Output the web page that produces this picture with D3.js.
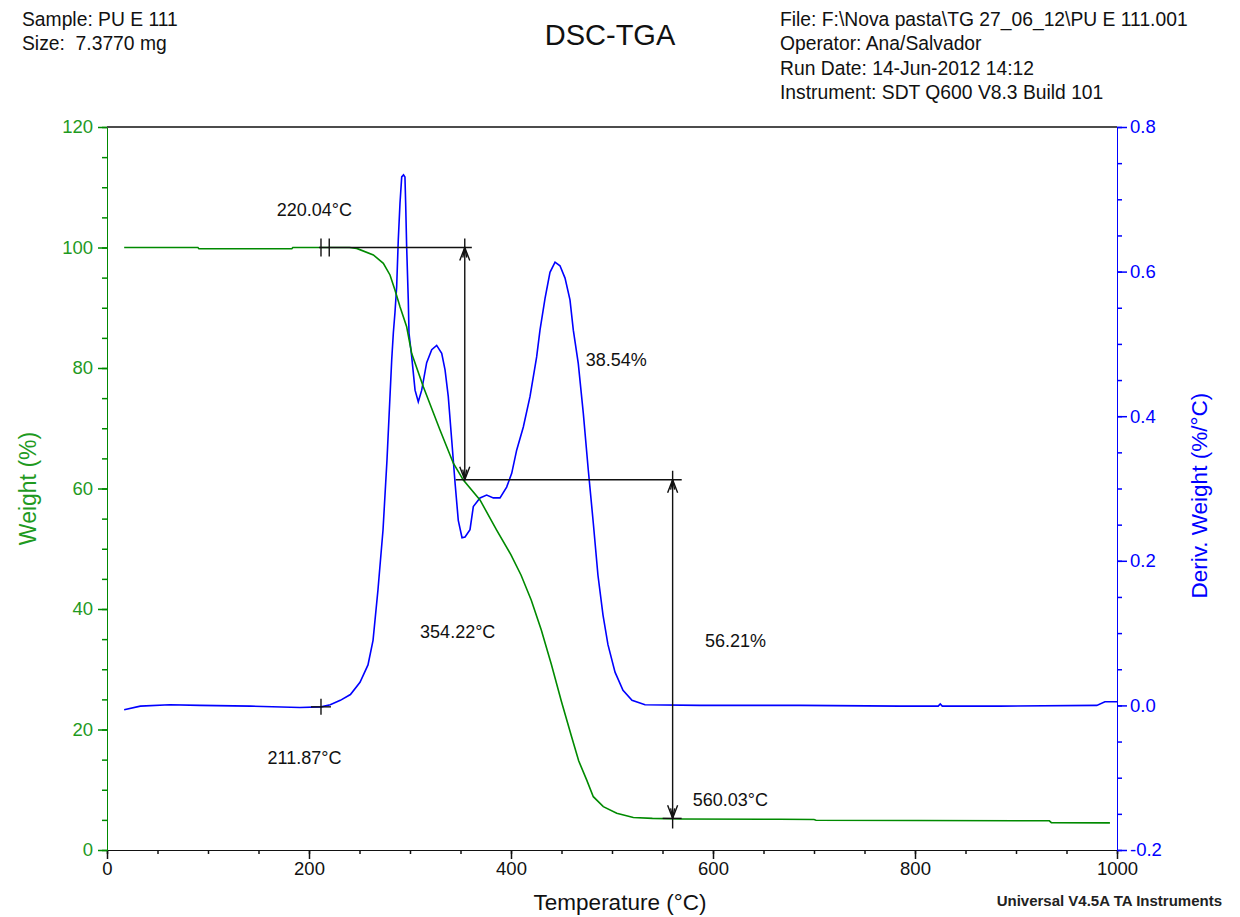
<!DOCTYPE html>
<html>
<head>
<meta charset="utf-8">
<script src="https://cdn.jsdelivr.net/npm/d3@7"></script>
<style>
  body { margin: 0; background: #fff; }
  svg text { font-family: "Liberation Sans", Arial, sans-serif; }
  .domain { shape-rendering: crispEdges; }
</style>
</head>
<body>
<div class="chart"></div>
<script>
const width = 1240;
const height = 917;
const margin = { top: 127, right: 123, bottom: 67, left: 107 };
const innerW = width - margin.left - margin.right;
const innerH = height - margin.top - margin.bottom;

// header text
const headerLeft = ['Sample: PU E 111', 'Size:  7.3770 mg'];
const headerRight = ['File: F:\\Nova pasta\\TG 27_06_12\\PU E 111.001', 'Operator: Ana/Salvador',
  'Run Date: 14-Jun-2012 14:12', 'Instrument: SDT Q600 V8.3 Build 101'];

// axis ticks
const tempTicks = [0, 200, 400, 600, 800, 1000];
const weightTicks = [0, 20, 40, 60, 80, 100, 120];
const derivTicks = [-0.2, 0.0, 0.2, 0.4, 0.6, 0.8];

// TGA weight curve [temperature °C, weight %]
const weightCurve = [
  [17, 100.0], [90, 100.0], [91, 99.8], [183, 99.8], [184, 100.0], [240, 100.0], [247.2, 99.85],
  [263.7, 98.76], [273.6, 97.38], [280.2, 95.44], [285.1, 92.95], [290.1, 90.17],
  [296.7, 86.85], [301.7, 82.4], [313.2, 76.9], [329.7, 69.7], [342.9, 64.2],
  [352.8, 61.4], [369.3, 58.1], [385.8, 53.1], [400, 49.0], [410, 45.6], [420, 41.5],
  [430, 36.5], [440, 30.8], [450, 24.6], [460, 18.8], [467, 14.8], [475, 11.6],
  [481.5, 8.85], [491.4, 7.2], [504.7, 6.1], [521.1, 5.4], [540, 5.25], [567.3, 5.15],
  [666, 5.1], [700, 5.05], [702, 4.95], [933, 4.85], [935, 4.55], [993, 4.5]
];

// DTG derivative curve [temperature °C, deriv. weight %/°C]
const derivCurve = [
  [17, -0.006], [33, -0.001], [62, 0.001], [92, 0.0], [142, -0.001], [191, -0.003],
  [212, -0.002], [221, 0.001], [231, 0.007], [241, 0.015], [250.5, 0.032], [258.4, 0.056],
  [263.4, 0.090], [268.3, 0.160], [273.3, 0.243], [277.2, 0.339], [281.9, 0.478],
  [283.5, 0.515], [285.1, 0.543], [286.8, 0.579], [288.4, 0.644], [290.1, 0.695],
  [291.8, 0.731], [293.6, 0.734], [295, 0.731], [295.7, 0.695], [296.7, 0.634],
  [298.3, 0.561], [299, 0.515], [301.7, 0.482], [305, 0.436], [308.2, 0.420],
  [311.6, 0.436], [316.5, 0.474], [321.5, 0.492], [326.4, 0.498], [331.4, 0.487],
  [334.7, 0.464], [337.9, 0.427], [341.3, 0.367], [344.6, 0.308], [347.8, 0.256],
  [351.5, 0.232], [354.5, 0.233], [359.4, 0.243], [362.7, 0.275], [369.3, 0.287],
  [375.9, 0.291], [382.5, 0.287], [389.1, 0.287], [395.7, 0.302], [400.7, 0.321],
  [405.6, 0.353], [412.2, 0.385], [418.8, 0.427], [425.4, 0.482], [428.7, 0.519],
  [433.7, 0.563], [438.6, 0.599], [443.6, 0.613], [448.5, 0.608], [453.5, 0.591],
  [458.4, 0.561], [461.7, 0.519], [466.6, 0.473], [471.6, 0.404], [476.5, 0.326],
  [481.5, 0.252], [486.1, 0.180], [491.1, 0.125], [496, 0.084], [503, 0.046],
  [510.9, 0.021], [519.8, 0.007], [532.7, 0.001], [587, 0.0], [686, 0.0], [785, -0.001],
  [823, -0.001], [825, 0.002], [827, -0.001], [884, -0.001], [980, 0.0], [988, 0.005], [1000, 0.005]
];

// step analysis results
const onsetStart = 211.87;
const onsetTemp = 220.04;
const step1Temp = 354.22;
const step2Temp = 560.03;
const step1Loss = 38.54;
const step2Loss = 56.21;
const startWeight = 100.0;

const svg = d3.select('.chart').append('svg')
  .attr('width', width)
  .attr('height', height)
  .attr('viewBox', `0 0 ${width} ${height}`);
const chart = svg.append('g').attr('transform', `translate(${margin.left}, ${margin.top})`);

const xScale = d3.scaleLinear().domain([0, 1000]).range([0, innerW]);
const yLeft = d3.scaleLinear().domain([0, 120]).range([innerH, 0]);
const yRight = d3.scaleLinear().domain([-0.2, 0.8]).range([innerH, 0]);

const green = '#008a00';
const greenText = '#1f9a1f';
const blue = '#0000ff';
const font = '"Liberation Sans", Arial, sans-serif';

/*      header      */
const hl = svg.append('g').attr('font-size', 19.3).attr('fill', '#111');
headerLeft.forEach((t, i) => hl.append('text').attr('x', 22).attr('y', 26 + i * 24.3).attr('xml:space', 'preserve').text(t));
const hr = svg.append('g').attr('font-size', 19.3).attr('fill', '#111');
headerRight.forEach((t, i) => hr.append('text').attr('x', 780).attr('y', 26 + i * 24.3).text(t));
svg.append('text').attr('x', 610).attr('y', 45).attr('text-anchor', 'middle')
  .attr('font-size', 29).attr('fill', '#111').text('DSC-TGA');

/*      axes      */
function minor(step, domain) {
  return d3.range(domain[0], domain[1] + step / 2, step);
}
// bottom
chart.append('g').attr('transform', `translate(0, ${innerH})`)
  .call(d3.axisBottom(xScale).tickValues(minor(50, [0, 1000])).tickSize(4).tickFormat(''))
  .call(g => g.select('.domain').remove())
  .call(g => g.selectAll('line').attr('stroke', '#111').attr('stroke-width', 1.5));
chart.append('g').attr('transform', `translate(0, ${innerH})`)
  .call(d3.axisBottom(xScale).tickValues(tempTicks).tickSize(9).tickSizeOuter(0).tickPadding(3).tickFormat(d3.format('d')))
  .call(g => g.select('.domain').attr('stroke', '#111').attr('stroke-width', 1.5))
  .call(g => g.selectAll('line').attr('stroke', '#111').attr('stroke-width', 1.5))
  .call(g => g.selectAll('text').attr('font-size', 18.5).attr('fill', '#111').attr('font-family', font));
// top border
chart.append('line').attr('x1', 0).attr('x2', innerW).attr('y1', 0).attr('y2', 0)
  .attr('stroke', '#111').attr('stroke-width', 1.5);

// left
chart.append('g')
  .call(d3.axisLeft(yLeft).tickValues(minor(5, [0, 120])).tickSize(5).tickFormat(''))
  .call(g => g.select('.domain').remove())
  .call(g => g.selectAll('line').attr('stroke', green).attr('stroke-width', 1.5));
chart.append('g')
  .call(d3.axisLeft(yLeft).tickValues(weightTicks).tickSize(9).tickSizeOuter(0).tickPadding(5))
  .call(g => g.select('.domain').attr('stroke', green).attr('stroke-width', 1.5))
  .call(g => g.selectAll('line').attr('stroke', green).attr('stroke-width', 1.5))
  .call(g => g.selectAll('text').attr('font-size', 18.5).attr('fill', greenText).attr('font-family', font));

// right
chart.append('g').attr('transform', `translate(${innerW}, 0)`)
  .call(d3.axisRight(yRight).tickValues(minor(0.05, [-0.2, 0.8])).tickSize(5).tickFormat(''))
  .call(g => g.select('.domain').remove())
  .call(g => g.selectAll('line').attr('stroke', blue).attr('stroke-width', 1.5));
chart.append('g').attr('transform', `translate(${innerW}, 0)`)
  .call(d3.axisRight(yRight).tickValues(derivTicks).tickSize(10).tickSizeOuter(0).tickPadding(3))
  .call(g => g.select('.domain').attr('stroke', blue).attr('stroke-width', 1.5))
  .call(g => g.selectAll('line').attr('stroke', blue).attr('stroke-width', 1.5))
  .call(g => g.selectAll('text').attr('font-size', 18.5).attr('fill', blue).attr('font-family', font)
    .text(d => d3.format('.1f')(d).replace('−', '-')));

// axis titles
svg.append('text').attr('x', margin.left + innerW / 2 + 8).attr('y', 910).attr('text-anchor', 'middle')
  .attr('font-size', 22.5).attr('fill', '#111').text('Temperature (°C)');
svg.append('text').attr('transform', `translate(36, ${margin.top + yLeft(60)}) rotate(-90)`)
  .attr('text-anchor', 'middle').attr('font-size', 23).attr('fill', greenText).text('Weight (%)');
svg.append('text').attr('transform', `translate(1207, ${margin.top + yRight(0.29)}) rotate(-90)`)
  .attr('text-anchor', 'middle').attr('font-size', 22.5).attr('fill', blue).text('Deriv. Weight (%/°C)');
svg.append('text').attr('x', 1222).attr('y', 906).attr('text-anchor', 'end')
  .attr('font-size', 15).attr('font-weight', 'bold').attr('fill', '#222').text('Universal V4.5A TA Instruments');

/*      curves      */
const weightLine = d3.line().x(d => xScale(d[0])).y(d => yLeft(d[1]));
const derivLine = d3.line().x(d => xScale(d[0])).y(d => yRight(d[1]));
chart.append('path').datum(derivCurve).attr('d', derivLine)
  .attr('fill', 'none').attr('stroke', blue).attr('stroke-width', 1.6);
chart.append('path').datum(weightCurve).attr('d', weightLine)
  .attr('fill', 'none').attr('stroke', green).attr('stroke-width', 1.6);

/*      step annotations      */
const ann = chart.append('g').attr('stroke', '#111').attr('stroke-width', 1.4).attr('fill', 'none');
const w1 = startWeight - step1Loss;
const w2 = w1 - step2Loss;
function hline(t1, t2, w) {
  ann.append('line').attr('x1', xScale(t1)).attr('x2', xScale(t2)).attr('y1', yLeft(w)).attr('y2', yLeft(w));
}
function vline(t, wa, wb) {
  ann.append('line').attr('x1', xScale(t)).attr('x2', xScale(t)).attr('y1', yLeft(wa)).attr('y2', yLeft(wb));
}
function arrow(t, w, dir) {
  // dir = -1 points up, 1 points down
  const x = xScale(t), y = yLeft(w);
  ann.append('path').attr('d', `M${x - 5},${y - dir * 13} L${x},${y} L${x + 5},${y - dir * 13}`);
  ann.append('path').attr('d', `M${x - 2},${y - dir * 10} L${x},${y} L${x + 2},${y - dir * 10}`);
}
// onset ticks
[onsetStart, onsetTemp].forEach(t => {
  ann.append('line').attr('x1', xScale(t)).attr('x2', xScale(t))
    .attr('y1', yLeft(startWeight) - 9).attr('y2', yLeft(startWeight) + 9);
});
hline(onsetStart - 2, step1Temp + 7, startWeight);
vline(step1Temp, startWeight + 1.5, w1);
arrow(step1Temp, startWeight, -1);
arrow(step1Temp, w1, 1);
hline(step1Temp - 9, step2Temp + 9, w1);
vline(step2Temp, w1 + 1.5, w2 - 1.7);
arrow(step2Temp, w1, -1);
arrow(step2Temp, w2, 1);
ann.append('line').attr('x1', xScale(step2Temp) - 10).attr('x2', xScale(step2Temp) + 9)
  .attr('y1', yLeft(w2)).attr('y2', yLeft(w2));
// cross on DTG at start
ann.append('line').attr('x1', xScale(onsetStart) - 10).attr('x2', xScale(onsetStart) + 10)
  .attr('y1', yRight(-0.002)).attr('y2', yRight(-0.002));
ann.append('line').attr('x1', xScale(onsetStart)).attr('x2', xScale(onsetStart))
  .attr('y1', yRight(-0.002) - 8).attr('y2', yRight(-0.002) + 8);

const labels = chart.append('g').attr('font-size', 18).attr('fill', '#111');
function label(text, t, w) {
  labels.append('text').attr('x', xScale(t)).attr('y', yLeft(w)).text(text);
}
label(onsetTemp.toFixed(2) + '°C', 168, 105.2);
label(step1Loss.toFixed(2) + '%', 474, 80.3);
label(step1Temp.toFixed(2) + '°C', 310, 35.2);
label(step2Loss.toFixed(2) + '%', 592, 33.7);
label(onsetStart.toFixed(2) + '°C', 159, 14.3);
label(step2Temp.toFixed(2) + '°C', 580, 7.3);
</script>
</body>
</html>
